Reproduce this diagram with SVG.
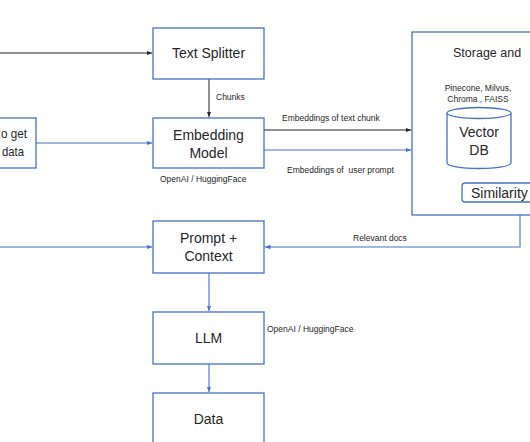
<svg xmlns="http://www.w3.org/2000/svg" width="530" height="442" viewBox="0 0 530 442">
<defs>
<style>
.box{fill:#fff;stroke:#4472C4;stroke-width:1.3}
.t{font-family:"Liberation Sans",Arial,sans-serif;fill:#262626}
.big{font-size:14px;text-anchor:middle}
.sm{font-size:8.5px;white-space:pre}
.bl{stroke:#222;stroke-width:1;fill:none}
.blu{stroke:#4472C4;stroke-width:1.1;fill:none}
</style>
<marker id="ab" viewBox="0 0 10 10" refX="10" refY="5" markerWidth="5" markerHeight="5" orient="auto"><path d="M0,1 L10,5 L0,9 Z" fill="#222"/></marker>
<marker id="au" viewBox="0 0 10 10" refX="10" refY="5" markerWidth="5" markerHeight="5" orient="auto"><path d="M0,1 L10,5 L0,9 Z" fill="#4472C4"/></marker>
<marker id="aus" viewBox="0 0 10 10" refX="10" refY="5" markerWidth="5" markerHeight="5" orient="auto-start-reverse"><path d="M0,1 L10,5 L0,9 Z" fill="#4472C4"/></marker>
</defs>
<rect width="530" height="442" fill="#fff"/>

<g id="connectors">
<line class="bl" x1="0" y1="53" x2="152" y2="53" marker-end="url(#ab)"/>
<line class="bl" x1="209" y1="79" x2="209" y2="117" marker-end="url(#ab)"/>
<line class="blu" x1="36" y1="143" x2="152" y2="143" marker-end="url(#au)"/>
<line class="bl" x1="264" y1="130" x2="411" y2="130" marker-end="url(#ab)"/>
<line class="blu" x1="264" y1="150" x2="411" y2="150" marker-end="url(#au)"/>
<line class="blu" x1="0" y1="247" x2="152" y2="247" marker-end="url(#au)"/>
<path class="blu" d="M520,215 V247 H265" marker-end="url(#au)"/>
<line class="blu" x1="209" y1="273" x2="209" y2="311" marker-end="url(#au)"/>
<line class="blu" x1="209" y1="364" x2="209" y2="392" marker-end="url(#au)"/>
<line class="blu" x1="479" y1="169" x2="479" y2="182" marker-start="url(#aus)" marker-end="url(#aus)"/>
<text class="t sm" x="216" y="100">Chunks</text>
<text class="t sm" x="282" y="121">Embeddings of text chunk</text>
<text class="t sm" x="287" y="173">Embeddings of  user prompt</text>
<text class="t sm" x="353" y="241">Relevant docs</text>
</g>

<g id="source">
<rect class="box" x="-20" y="118" width="56" height="50"/>
<text class="t" style="font-size:13.5px" x="1" y="138" textLength="26" lengthAdjust="spacingAndGlyphs">o get</text>
<text class="t" style="font-size:13.5px" x="2" y="156" textLength="22" lengthAdjust="spacingAndGlyphs">data</text>
</g>

<g id="text-splitter">
<rect class="box" x="153" y="28" width="111" height="51"/>
<text class="t big" x="208.5" y="58">Text Splitter</text>
</g>

<g id="embedding-model">
<rect class="box" x="153" y="118" width="111" height="50"/>
<text class="t big" x="208.5" y="140">Embedding</text>
<text class="t big" x="208.5" y="158">Model</text>
<text class="t sm" x="160" y="182">OpenAI / HuggingFace</text>
</g>

<g id="storage">
<rect class="box" x="412" y="32" width="140" height="183"/>
<text class="t" style="font-size:12.5px" x="453" y="57">Storage and</text>
<text class="t sm" style="text-anchor:middle" x="478" y="91">Pinecone, Milvus,</text>
<text class="t sm" style="text-anchor:middle" x="478" y="102">Chroma , FAISS</text>
</g>

<g id="vector-db">
<path class="box" d="M447,113 V163 A32,5.5 0 0 0 511,163 V113 A32,5.5 0 0 0 447,113 A32,5.5 0 0 0 511,113"/>
<text class="t big" x="479" y="137">Vector</text>
<text class="t big" x="479" y="155">DB</text>
</g>

<g id="similarity">
<rect class="box" x="462" y="183" width="90" height="19" rx="3"/>
<text class="t" style="font-size:14px" x="471" y="198">Similarity</text>
</g>

<g id="prompt-context">
<rect class="box" x="153" y="221" width="111" height="52"/>
<text class="t big" x="208.5" y="243">Prompt +</text>
<text class="t big" x="208.5" y="261">Context</text>
</g>

<g id="llm">
<rect class="box" x="153" y="312" width="111" height="52"/>
<text class="t big" x="208.5" y="343">LLM</text>
<text class="t sm" x="267" y="332">OpenAI / HuggingFace</text>
</g>

<g id="data">
<rect class="box" x="153" y="393" width="111" height="60"/>
<text class="t big" x="208.5" y="424">Data</text>
</g>
</svg>
